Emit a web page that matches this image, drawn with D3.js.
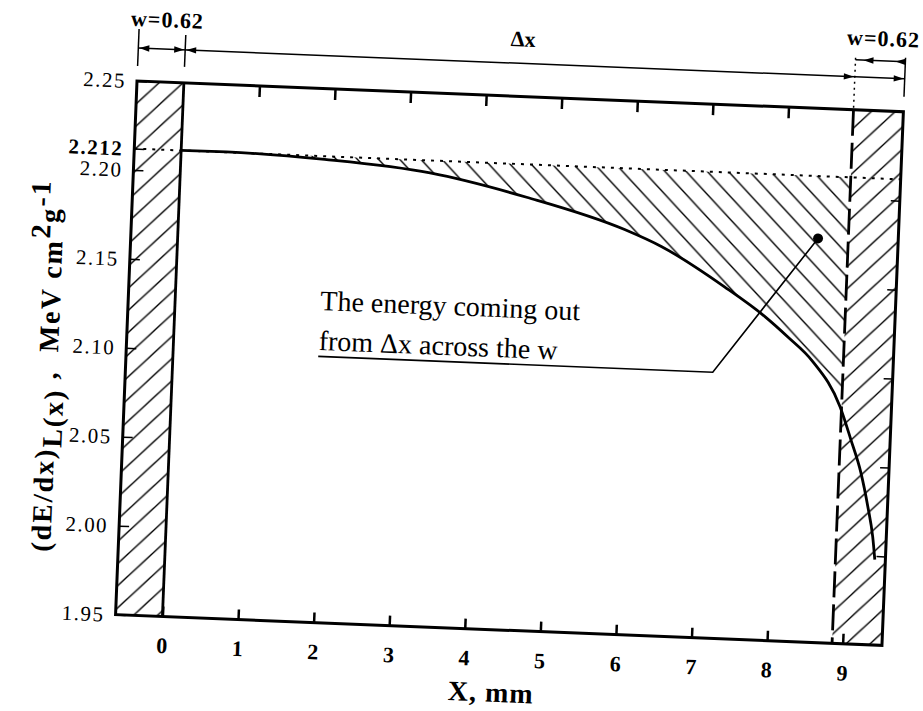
<!DOCTYPE html>
<html>
<head>
<meta charset="utf-8">
<script src="https://cdn.jsdelivr.net/npm/d3@7"></script>
<style>
  body { margin: 0; background: #fff; }
  text { font-family: "Liberation Serif", "Times New Roman", serif; fill: #000; }
</style>
</head>
<body>
<div id="root"></div>
<script>
const WIDTH = 923;
const HEIGHT = 711;
const PLOT_W = 767;
const PLOT_H = 534;
const TILT = 2.3; // the scan is slightly rotated

// data
const curveX = [0, 0.6, 1.9, 3.3, 4.6, 5.9, 6.4, 7.25, 7.8, 8.11, 8.45, 8.84, 9.0, 9.15, 9.26, 9.34, 9.38];
const curveY = [2.212, 2.2122, 2.2102, 2.205, 2.1934, 2.1776, 2.1688, 2.1477, 2.1319, 2.1211, 2.108, 2.083, 2.0648, 2.0465, 2.0275, 2.0108, 1.998];
const xTicks = [0, 1, 2, 3, 4, 5, 6, 7, 8, 9];
const topTicks = [1, 2, 3, 4, 5, 6, 7, 8];
const yTicks = [1.95, 2.00, 2.05, 2.10, 2.15, 2.20, 2.212, 2.25];
const rightTicks = [2.00, 2.05, 2.10, 2.15, 2.20];
const leftWall = [-0.62, 0];
const rightWall = [8.86, 9.52];
const plateau = 2.212;
const noteLines = ["The energy coming out", "from \u0394x across the w"];

const curveData = curveX.map((d, i) => ({x: d, y: curveY[i]}));

const x = d3.scaleLinear()
    .domain([leftWall[0], rightWall[1]])
    .range([0, PLOT_W]);

const y = d3.scaleLinear()
    .domain([1.95, 2.25])
    .range([PLOT_H, 0]);

const svg = d3.select("#root")
    .append("svg")
    .attr("width", WIDTH)
    .attr("height", HEIGHT);

const defs = svg.append("defs");

// forward "/" hatch for the walls
defs.append("pattern")
    .attr("id", "fwd")
    .attr("patternUnits", "userSpaceOnUse")
    .attr("width", 23).attr("height", 23)
    .append("path")
    .attr("d", "M0,23 L23,0 M-3,3 L3,-3 M20,26 L26,20")
    .attr("stroke", "#000").attr("stroke-width", 1.4);

// back "\" hatch for the energy leaving dx
defs.append("pattern")
    .attr("id", "back")
    .attr("patternUnits", "userSpaceOnUse")
    .attr("width", 22).attr("height", 22)
    .append("path")
    .attr("d", "M0,0 L22,22 M-3,19 L3,25 M19,-3 L25,3")
    .attr("stroke", "#000").attr("stroke-width", 1.4);

defs.append("clipPath")
    .attr("id", "dxClip")
    .append("rect")
    .attr("x", x(0)).attr("y", 0)
    .attr("width", x(rightWall[0]) - x(0)).attr("height", PLOT_H);

const g = svg.append("g")
    .attr("transform", `translate(137,81) rotate(${TILT})`);

// hatched walls
[leftWall, rightWall].forEach(w => {
    g.append("rect")
        .attr("x", x(w[0]))
        .attr("y", 0)
        .attr("width", x(w[1]) - x(w[0]))
        .attr("height", PLOT_H)
        .attr("fill", "url(#fwd)");
});

// hatched gap between plateau and curve
const area = d3.area()
    .x(d => x(d.x))
    .y0(y(plateau))
    .y1(d => y(d.y))
    .curve(d3.curveMonotoneX);

g.append("path")
    .datum(curveData)
    .attr("d", area)
    .attr("fill", "url(#back)")
    .attr("clip-path", "url(#dxClip)");

// plateau dotted line
g.append("line")
    .attr("x1", x(leftWall[0])).attr("x2", x(rightWall[1]))
    .attr("y1", y(plateau)).attr("y2", y(plateau))
    .attr("stroke", "#000").attr("stroke-width", 2)
    .attr("stroke-dasharray", "3,6");

// curve
const line = d3.line()
    .x(d => x(d.x))
    .y(d => y(d.y))
    .curve(d3.curveMonotoneX);

g.append("path")
    .datum(curveData)
    .attr("d", line)
    .attr("fill", "none")
    .attr("stroke", "#000")
    .attr("stroke-width", 2.8);

// dashed boundary of the right wall
g.append("line")
    .attr("x1", x(rightWall[0])).attr("x2", x(rightWall[0]))
    .attr("y1", 0).attr("y2", PLOT_H)
    .attr("stroke", "#000").attr("stroke-width", 2.8)
    .attr("stroke-dasharray", "26,7");

g.append("line")
    .attr("x1", x(rightWall[0])).attr("x2", x(rightWall[0]))
    .attr("y1", -52).attr("y2", 0)
    .attr("stroke", "#000").attr("stroke-width", 1.5)
    .attr("stroke-dasharray", "2,4");

// frame
g.append("rect")
    .attr("x", 0).attr("y", 0)
    .attr("width", PLOT_W).attr("height", PLOT_H)
    .attr("fill", "none")
    .attr("stroke", "#000").attr("stroke-width", 3);

g.append("line")
    .attr("x1", x(leftWall[1])).attr("x2", x(leftWall[1]))
    .attr("y1", 0).attr("y2", PLOT_H)
    .attr("stroke", "#000").attr("stroke-width", 2.8);

// axes
function styleAxis(sel, width) {
    sel.select(".domain").remove();
    sel.selectAll(".tick line").attr("stroke", "#000").attr("stroke-width", width);
    sel.attr("font-family", null).attr("font-size", null);
}

g.append("g")
    .attr("transform", `translate(0,${PLOT_H})`)
    .call(d3.axisBottom(x).tickValues(xTicks).tickSize(-10).tickPadding(21).tickFormat(d3.format("d")))
    .call(s => styleAxis(s, 2.5))
    .call(s => s.selectAll("text").style("font-size", "22px").style("font-weight", "bold"));

g.append("g")
    .call(d3.axisTop(x).tickValues(topTicks).tickSize(-11).tickFormat(""))
    .call(s => styleAxis(s, 2.5));

g.append("g")
    .call(d3.axisLeft(y).tickValues(yTicks).tickSize(-10).tickPadding(11)
        .tickFormat(d => d === plateau ? d3.format(".3f")(d) : d3.format(".2f")(d)))
    .call(s => styleAxis(s, 1.5))
    .call(s => s.selectAll("text")
        .style("font-size", "21px")
        .style("letter-spacing", "1.5px")
        .style("font-weight", d => d === plateau ? "bold" : "normal"));

g.append("g")
    .attr("transform", `translate(${PLOT_W},0)`)
    .call(d3.axisRight(y).tickValues(rightTicks).tickSize(-9).tickFormat(""))
    .call(s => styleAxis(s, 1.5));

// axis titles
g.append("text")
    .attr("x", 378).attr("y", 606)
    .attr("text-anchor", "middle")
    .style("font-size", "28px").style("font-weight", "bold")
    .style("letter-spacing", "1px")
    .text("X, mm");

const yTitle = g.append("text")
    .attr("transform", "translate(-68,288) rotate(-90)")
    .attr("text-anchor", "middle")
    .style("font-size", "28px").style("font-weight", "bold")
    .style("letter-spacing", "2px")
    .style("white-space", "pre");
yTitle.append("tspan").text("(dE/dx)");
yTitle.append("tspan").attr("dy", "0.25em").text("L(x)");
yTitle.append("tspan").attr("dy", "-0.25em").text(" ,  MeV cm");
yTitle.append("tspan").attr("dy", "-0.45em").text("2");
yTitle.append("tspan").attr("dy", "0.3em").text("g");
yTitle.append("tspan").attr("dy", "-0.35em").text("-1");

// dimension lines above the frame
const dimY = -33;
const dimY2 = -50;

function arrow(px, py, dir) {
    g.append("path")
        .attr("d", `M${px},${py} L${px - dir * 10},${py - 3.2} L${px - dir * 10},${py + 3.2} Z`)
        .attr("fill", "#000");
}

[[x(leftWall[0]), -15, -52], [x(leftWall[1]), -16, -48], [x(rightWall[1]), -15, -54]].forEach(v => {
    g.append("line")
        .attr("x1", v[0]).attr("x2", v[0])
        .attr("y1", v[1]).attr("y2", v[2])
        .attr("stroke", "#000").attr("stroke-width", 1.5);
});

g.append("line")
    .attr("x1", x(leftWall[0])).attr("x2", x(rightWall[1]))
    .attr("y1", dimY).attr("y2", dimY)
    .attr("stroke", "#000").attr("stroke-width", 1.5);
g.append("line")
    .attr("x1", x(rightWall[0])).attr("x2", x(rightWall[1]))
    .attr("y1", dimY2).attr("y2", dimY2)
    .attr("stroke", "#000").attr("stroke-width", 1.5);

arrow(x(leftWall[0]) + 1, dimY, -1);
arrow(x(leftWall[1]) - 1, dimY, 1);
arrow(x(leftWall[1]) + 1, dimY, -1);
arrow(x(rightWall[0]) - 1, dimY, 1);
arrow(x(rightWall[1]) - 1, dimY, 1);
arrow(x(rightWall[0]) + 8, dimY2, -1);
arrow(x(rightWall[0]) + 40, dimY2, -1);

g.append("text")
    .attr("x", x(-0.25)).attr("y", -55)
    .attr("text-anchor", "middle")
    .style("font-size", "22px").style("font-weight", "bold")
    .style("letter-spacing", "1px")
    .text("w=0.62");

g.append("text")
    .attr("x", x(4.46)).attr("y", -50)
    .attr("text-anchor", "middle")
    .style("font-size", "22px").style("font-weight", "bold")
    .text("\u0394x");

g.append("text")
    .attr("x", x(9.22)).attr("y", -65)
    .attr("text-anchor", "middle")
    .style("font-size", "22px").style("font-weight", "bold")
    .style("letter-spacing", "1px")
    .text("w=0.62");

// annotation
noteLines.forEach((t, i) => {
    g.append("text")
        .attr("x", x(1.92))
        .attr("y", y(2.1256) + i * 40)
        .style("font-size", "28px")
        .text(t);
});

g.append("path")
    .attr("d", d3.line()([[x(1.92), y(2.0995)], [x(7.14), y(2.0995)], [x(8.46), y(2.177)]]))
    .attr("fill", "none")
    .attr("stroke", "#000")
    .attr("stroke-width", 1.6);

g.append("circle")
    .attr("cx", x(8.46)).attr("cy", y(2.177))
    .attr("r", 5)
    .attr("fill", "#000");
</script>
</body>
</html>
